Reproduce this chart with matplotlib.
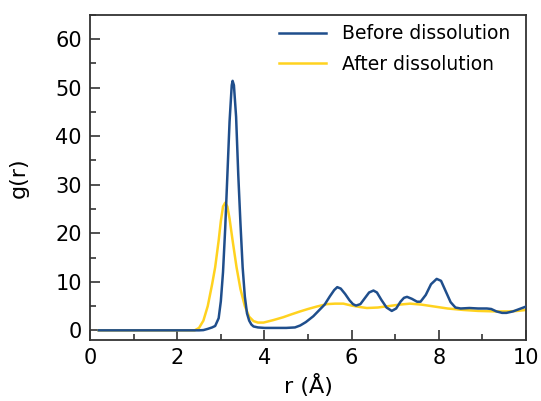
import matplotlib.pyplot as plt
from matplotlib.ticker import MultipleLocator

plt.rcParams['font.family'] = ['DejaVu Sans']

# g(r) before dissolution
r_before = [0.2, 2.5, 2.6, 2.7, 2.8, 2.87, 2.95, 3.0, 3.05, 3.1, 3.15, 3.2, 3.25, 3.27,
            3.3, 3.35, 3.4, 3.45, 3.5, 3.55, 3.6, 3.65, 3.7, 3.75, 3.85, 4.0, 4.5, 4.7,
            4.82, 4.95, 5.12, 5.25, 5.38, 5.5, 5.6, 5.67, 5.75, 5.85, 5.95, 6.03, 6.1,
            6.2, 6.3, 6.4, 6.5, 6.58, 6.68, 6.8, 6.92, 7.02, 7.12, 7.2, 7.27, 7.38, 7.5,
            7.58, 7.7, 7.82, 7.95, 8.05, 8.15, 8.27, 8.38, 8.5, 8.7, 8.9, 9.1, 9.2,
            9.32, 9.45, 9.55, 9.7, 9.85, 10.0]
g_before = [0, 0, 0.05, 0.3, 0.6, 0.9, 2.5, 6, 12, 21, 32, 43, 50.5, 51.4,
            50.5, 44, 32, 22, 13, 7, 3.5, 2.0, 1.2, 0.8, 0.6, 0.5, 0.5, 0.6,
            1.0, 1.7, 2.9, 4.1, 5.3, 7.0, 8.3, 8.9, 8.6, 7.5, 6.2, 5.4, 5.1,
            5.4, 6.6, 7.8, 8.2, 7.8, 6.3, 4.7, 4.0, 4.5, 5.9, 6.7, 6.9, 6.5, 5.9,
            5.9, 7.3, 9.5, 10.6, 10.2, 8.2, 5.8, 4.7, 4.5, 4.6, 4.5, 4.5, 4.4,
            3.9, 3.6, 3.6, 3.9, 4.4, 4.9]

# g(r) after dissolution
r_after = [0.2, 2.4, 2.5, 2.6, 2.7, 2.8, 2.87, 2.95, 3.0, 3.05, 3.1, 3.15, 3.2, 3.27,
           3.36, 3.45, 3.55, 3.65, 3.75, 3.85, 3.98, 4.2, 4.43, 4.62, 4.82, 5.0,
           5.2, 5.43, 5.62, 5.81, 6.0, 6.19, 6.35, 6.6, 6.85, 7.1, 7.34, 7.6, 7.9,
           8.2, 8.56, 8.9, 9.3, 9.6, 9.8, 10.0]
g_after = [0, 0, 0.5, 2, 5, 9.5, 13, 18.5, 22.5, 25.5, 26.3, 25.5, 23, 18.5,
           13, 8.5, 5, 2.8, 1.9, 1.6, 1.6, 2.1, 2.7, 3.3, 3.9, 4.4,
           4.9, 5.4, 5.5, 5.5, 5.1, 4.8, 4.6, 4.7, 5.0, 5.3, 5.5, 5.3, 4.9,
           4.5, 4.2, 4.0, 3.9, 3.9, 4.0, 4.2]

blue = '#1f4e8c'
yellow = '#ffd21f'

fig = plt.figure(figsize=(5.41, 4.01), dpi=100)
ax = fig.add_axes([0.1664, 0.152, 0.806, 0.811])

ax.plot(r_before, g_before, color=blue, lw=1.8, label='Before dissolution', zorder=3)
ax.plot(r_after, g_after, color=yellow, lw=1.8, label='After dissolution', zorder=2)

ax.set_xlim(0, 10)
ax.set_ylim(-2, 65)
ax.xaxis.set_major_locator(MultipleLocator(2))
ax.xaxis.set_minor_locator(MultipleLocator(1))
ax.yaxis.set_major_locator(MultipleLocator(10))
ax.yaxis.set_minor_locator(MultipleLocator(5))
ax.tick_params(which='both', direction='in', top=False, right=False,
               width=1.2, color='#333333', labelsize=15, pad=6)
ax.tick_params(which='major', length=7)
ax.tick_params(which='minor', length=4)
for s in ax.spines.values():
    s.set_linewidth(1.3)
    s.set_color('#333333')

ax.set_xlabel('r (Å)', fontsize=16, labelpad=4)
ax.set_ylabel('g(r)', fontsize=16, labelpad=19)

ax.legend(loc='upper right', bbox_to_anchor=(0.99, 1.006), frameon=False,
          fontsize=13.5, handlelength=2.5, handletextpad=0.85, borderaxespad=0.2,
          labelspacing=0.62)

fig.savefig('out.png', dpi=100)
